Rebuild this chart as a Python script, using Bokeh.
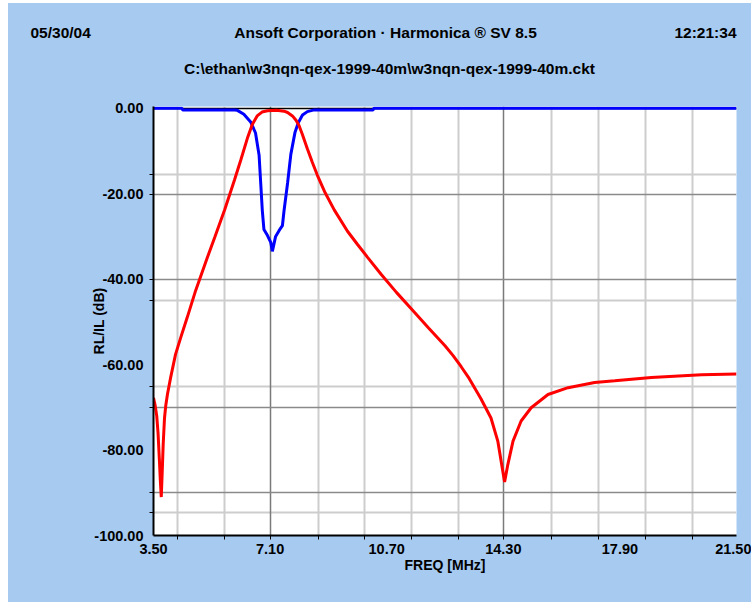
from bokeh.plotting import figure
from bokeh.models import Range1d, FixedTicker, Grid, PrintfTickFormatter, Spacer, Row, Column
from bokeh.core.properties import value
from bokeh.embed import file_html
from bokeh.resources import INLINE

# ---------------- data ----------------
freq_il = [3.50, 3.55, 3.60, 3.64, 3.68, 3.71, 3.74, 3.77, 3.80, 3.84, 3.88, 3.93,
           4.03, 4.18, 4.34, 4.54, 4.80, 5.16, 5.40, 5.70, 6.00, 6.20, 6.40, 6.55,
           6.70, 6.85, 7.02, 7.30, 7.53, 7.64, 7.79, 7.90, 7.99, 8.10, 8.25,
           8.40, 8.56, 8.80, 9.08, 9.49, 9.80, 10.11, 10.52, 11.00, 11.50, 12.00, 12.50,
           12.75, 13.00, 13.25, 13.61, 13.92, 14.13, 14.25, 14.34, 14.44, 14.60, 14.85,
           15.16, 15.68, 16.30, 17.12, 17.74, 18.87, 20.42, 21.50]
il_db = [-67.8, -69.5, -72.0, -76.0, -82.0, -87.0, -91.0, -85.0, -78.5, -72.5, -69.5, -67.0,
         -63.0, -57.6, -53.7, -49.0, -42.7, -35.0, -30.0, -23.7, -16.8, -12.0, -7.0, -3.8,
         -1.8, -0.9, -0.6, -0.5, -0.7, -1.0, -1.8, -2.8, -4.0, -6.2, -9.5,
         -12.6, -15.7, -19.8, -23.8, -28.8, -31.9, -34.9, -38.8, -43.1, -47.3, -51.5, -55.6,
         -57.9, -60.5, -63.3, -68.0, -72.5, -77.9, -83.4, -87.5, -83.4, -77.9, -73.2,
         -70.1, -67.0, -65.4, -64.2, -63.8, -63.0, -62.4, -62.2]

freq_rl = [3.50, 4.38, 4.40, 6.00, 6.09, 6.29, 6.50, 6.65, 6.76, 6.81, 6.86, 6.91,
           7.02, 7.12, 7.17, 7.27, 7.38, 7.48, 7.53, 7.64, 7.74, 7.87, 7.97, 8.10,
           8.25, 8.46, 10.28, 10.30, 21.50]
rl_db = [0.0, 0.0, -0.4, -0.4, -0.5, -1.4, -3.2, -5.8, -11.0, -17.5, -24.0, -28.4,
         -29.8, -31.4, -33.5, -30.0, -28.6, -27.5, -24.0, -17.5, -10.8, -5.6, -3.4, -1.6,
         -0.8, -0.4, -0.4, 0.0, 0.0]

x_label_ticks = [3.5, 7.1, 10.7, 14.3, 17.9, 21.5]
y_label_ticks = [0, -20, -40, -60, -80, -100]
x_grid_light = [4.25, 5.69, 8.58, 10.02, 11.47, 12.91, 15.80, 17.24, 18.68, 20.13]
x_grid_dark = [7.10, 14.30]
y_grid_light = [-15.4, -45.0, -65.2, -94.7]
y_grid_dark = [-20.3, -40.1, -70.0, -89.9]
top_line = [0.0]

header_date = "05/30/04"
header_title = "Ansoft Corporation \u00b7 Harmonica \u00ae SV 8.5"
header_time = "12:21:34"
header_file = "C:\\ethan\\w3nqn-qex-1999-40m\\w3nqn-qex-1999-40m.ckt"
x_title = "FREQ [MHz]"
y_title = "RL/IL (dB)"

BG = "#A6CAF0"
FONT = "Liberation Sans"

# ---------------- header strip ----------------
hdr = figure(width=743, height=87, x_range=Range1d(0, 743), y_range=Range1d(87, 0),
             x_axis_type=None, y_axis_type=None, min_border=0,
             min_border_left=0, min_border_right=0, min_border_top=0, min_border_bottom=0,
             output_backend="svg", toolbar_location=None,
             background_fill_color=BG, border_fill_color=BG, outline_line_color=None)
for xs, ys, txt, al in [([22], [29], [header_date], "left"),
                        ([377], [29], [header_title], "center"),
                        ([728], [29], [header_time], "right"),
                        ([381], [65], [header_file], "center")]:
    hdr.text(x=xs, y=ys, text=txt, text_font=value(FONT), text_font_style="bold",
             text_font_size="15.5px", text_color="#000000", text_align=al,
             text_baseline="middle")

# ---------------- main plot ----------------
p = figure(frame_width=583, frame_height=429,
           min_border_left=145, min_border_right=15,
           min_border_top=16, min_border_bottom=67,
           x_range=Range1d(3.5, 21.5), y_range=Range1d(-100, 0.4),
           output_backend="svg", toolbar_location=None,
           background_fill_color="white", border_fill_color=BG,
           outline_line_color=None)

for fig in (hdr, p):
    try:
        fig.frame_align = False
    except Exception:
        pass

p.xgrid.grid_line_color = None
p.ygrid.grid_line_color = None

for dim, ticks, col, w in [(0, x_grid_light, "#CDCDCD", 2), (1, y_grid_light, "#CDCDCD", 2),
                           (0, x_grid_dark, "#7A7A7A", 1.5), (1, y_grid_dark, "#8A8A8A", 1.5),
                           (1, top_line, "#000000", 1.5)]:
    p.add_layout(Grid(dimension=dim, ticker=FixedTicker(ticks=ticks),
                      grid_line_color=col, grid_line_width=w))

xa = p.xaxis[0]
xa.ticker = FixedTicker(ticks=x_label_ticks, minor_ticks=sorted(x_grid_light + x_grid_dark))
xa.formatter = PrintfTickFormatter(format="%.2f")
ya = p.yaxis[0]
ya.ticker = FixedTicker(ticks=y_label_ticks, minor_ticks=sorted(y_grid_light + y_grid_dark))
ya.formatter = PrintfTickFormatter(format="%.2f")
for ax in (xa, ya):
    ax.axis_line_color = "#000000"
    ax.axis_line_width = 2
    ax.major_tick_out = 0
    ax.major_tick_in = 0
    ax.minor_tick_out = 4
    ax.minor_tick_in = 0
    ax.minor_tick_line_color = "#000000"
    ax.major_label_text_font = FONT
    ax.major_label_text_font_style = "bold"
    ax.major_label_text_font_size = "14.5px"
    ax.major_label_text_color = "#000000"
    ax.axis_label_text_font = FONT
    ax.axis_label_text_font_style = "bold"
    ax.axis_label_text_font_size = "14px"
    ax.axis_label_text_color = "#000000"
xa.major_label_standoff = 4
ya.major_label_standoff = 6
xa.axis_label = x_title
ya.axis_label = y_title
xa.axis_label_standoff = 0
ya.axis_label_standoff = -16

p.line(freq_rl, rl_db, line_color="#0000FF", line_width=3)
p.line(freq_il, il_db, line_color="#FF0000", line_width=3)

col = Column(Spacer(width=743, height=3, styles={"background-color": "white"}), hdr, p,
             spacing=0, styles={"background-color": BG})
layout = Row(Spacer(width=8, height=602), col, spacing=0)

open("out.html", "w").write(file_html(layout, INLINE))
